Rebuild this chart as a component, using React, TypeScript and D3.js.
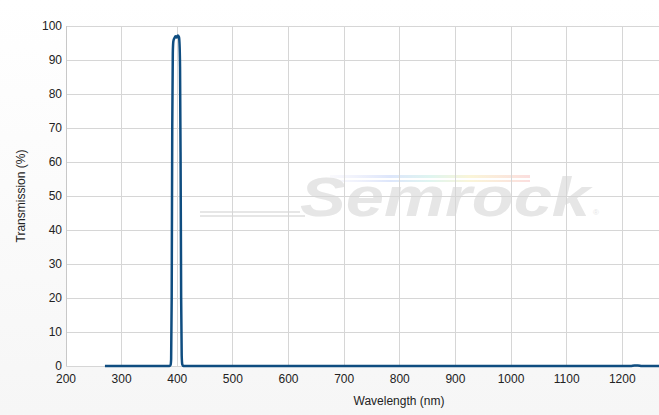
import React from "react";
import * as d3 from "d3";

const wavelengths = [270, 386, 388, 389, 390, 391, 392, 393, 395, 397, 399, 401, 403, 404, 405, 406, 407, 408, 409, 411, 1215, 1222, 1228, 1235, 1266];
const transmission = [0, 0, 0.3, 2, 20, 70, 92, 95.5, 96.5, 97, 96.6, 97.2, 96.8, 95, 88, 60, 20, 3, 0.5, 0, 0, 0.15, 0.15, 0, 0];
const xTicks = [200, 300, 400, 500, 600, 700, 800, 900, 1000, 1100, 1200];
const yTicks = [0, 10, 20, 30, 40, 50, 60, 70, 80, 90, 100];

const W = 659, H = 415;
const m = { left: 66, right: 0, top: 26, bottom: 49 };

export default function App() {
  const x = d3.scaleLinear().domain([200, 1266]).range([m.left, W - m.right]);
  const y = d3.scaleLinear().domain([0, 100]).range([H - m.bottom, m.top]);
  const pts = wavelengths.map((w, i) => [w, transmission[i]] as [number, number]);
  const line = d3.line<[number, number]>().x(d => x(d[0])).y(d => y(d[1])).curve(d3.curveMonotoneX);
  const font = "'Liberation Sans', Arial, sans-serif";
  return (
    <svg width={W} height={H} style={{ display: "block", position: "absolute", left: 0, top: 0 }}>
      <defs>
        <linearGradient id="bg" x1="0" y1="0" x2="0" y2="1">
          <stop offset="0" stopColor="#ffffff" />
          <stop offset="1" stopColor="#f6f6f6" />
        </linearGradient>
        <linearGradient id="rain" x1="0" y1="0" x2="1" y2="0">
          <stop offset="0" stopColor="#e8e8f8" stopOpacity="0.2" />
          <stop offset="0.3" stopColor="#dde6fb" />
          <stop offset="0.5" stopColor="#dff5f0" />
          <stop offset="0.7" stopColor="#faf5d8" />
          <stop offset="1" stopColor="#fbdede" />
        </linearGradient>
      </defs>
      <rect x={0} y={0} width={W} height={H} fill="url(#bg)" />
      <rect x={m.left} y={m.top} width={W - m.left - m.right} height={H - m.top - m.bottom} fill="#ffffff" />
      {/* watermark */}
      <g>
        <rect x={330} y={175} width={200} height={3} fill="url(#rain)" />
        <rect x={330} y={180} width={200} height={2} fill="url(#rain)" />
        <path d="M200,212 L300,212 M200,216 L305,216" stroke="#e6e6e6" strokeWidth={2} fill="none" />
        <text x={300} y={216} fontFamily={font} fontSize={56} fontWeight="bold" fontStyle="italic" fill="#e6e6e6" textLength={290} lengthAdjust="spacingAndGlyphs">Semrock</text>
        <text x={593} y={215} fontFamily={font} fontSize={8} fill="#e6e6e6">®</text>
      </g>
      {/* grid */}
      {xTicks.map(t => (
        <line key={"gx" + t} x1={x(t)} x2={x(t)} y1={m.top} y2={H - m.bottom} stroke="#d6d6d6" strokeWidth={1} shapeRendering="crispEdges" />
      ))}
      {yTicks.map(t => (
        <line key={"gy" + t} x1={m.left} x2={W} y1={y(t)} y2={y(t)} stroke="#d6d6d6" strokeWidth={1} shapeRendering="crispEdges" />
      ))}
      <line x1={m.left} x2={m.left} y1={m.top} y2={H - m.bottom} stroke="#c8c8c8" shapeRendering="crispEdges" />
      {/* tick labels */}
      {yTicks.map(t => (
        <text key={"ly" + t} x={m.left - 4} y={y(t) + 4} textAnchor="end" fontFamily={font} fontSize={12} fill="#222">{t}</text>
      ))}
      {xTicks.map(t => (
        <text key={"lx" + t} x={x(t)} y={H - m.bottom + 17} textAnchor="middle" fontFamily={font} fontSize={12} fill="#222">{t}</text>
      ))}
      <text x={399} y={405} textAnchor="middle" fontFamily={font} fontSize={12} fill="#222">Wavelength (nm)</text>
      <text transform={`translate(25,${(m.top + H - m.bottom) / 2}) rotate(-90)`} textAnchor="middle" fontFamily={font} fontSize={12} fill="#222">Transmission (%)</text>
      {/* data */}
      <path d={line(pts) ?? ""} fill="none" stroke="#0f4d80" strokeWidth={2.5} strokeLinejoin="round" />
    </svg>
  );
}
